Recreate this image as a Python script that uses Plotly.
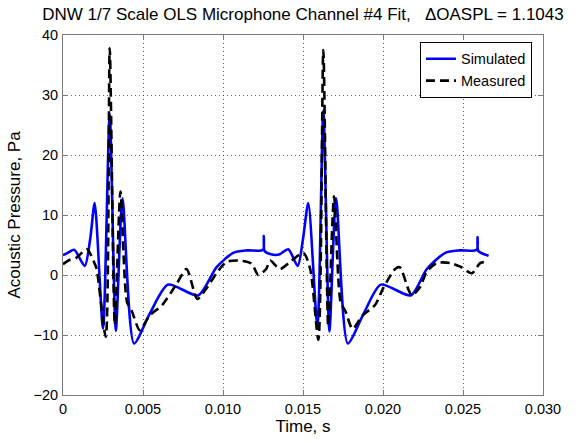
import plotly.graph_objects as go

# Simulated acoustic pressure (Pa) vs time (s)
sim_t = [0.0000, 0.0003, 0.0007, 0.00136, 0.0017, 0.00198, 0.0025, 0.00292, 0.0033,
         0.00372, 0.00444, 0.00543, 0.00657, 0.00845, 0.0096, 0.01064, 0.0115,
         0.01250, 0.01255, 0.01260, 0.01294, 0.0135, 0.01408, 0.01467, 0.0150,
         0.01533, 0.0159, 0.01627, 0.01665, 0.01707, 0.0178, 0.0188, 0.01986,
         0.02174, 0.02274, 0.02389, 0.0248, 0.02586, 0.02591, 0.02596, 0.0266]
sim_p = [3.3, 3.7, 4.2, 1.5, 6.0, 12.0, -8.9, 26.8, -9.3,
         12.8, -11.4, -6.4, -1.6, -3.4, 1.3, 3.7, 4.1,
         4.2, 6.5, 4.0, 3.5, 3.4, 4.3, 1.5, 6.0,
         12.0, -8.6, 27.4, -9.4, 12.8, -11.4, -6.4, -1.6,
         -3.4, 1.0, 3.7, 4.1, 4.2, 6.3, 4.0, 3.2]

# Measured acoustic pressure (Pa) vs time (s)
meas_t = [0.0000, 0.0004, 0.0008, 0.0015, 0.0019, 0.0021, 0.00267, 0.00292, 0.00324,
          0.00359, 0.0040, 0.0043, 0.0048, 0.0054, 0.0062, 0.0071, 0.00772,
          0.0084, 0.00897, 0.0096, 0.01022, 0.01105, 0.01179, 0.0122, 0.0127,
          0.01294, 0.01356, 0.0142, 0.01502, 0.01545, 0.01596, 0.01627, 0.01658,
          0.01694, 0.01735, 0.01765, 0.0181, 0.0187, 0.0195, 0.02003, 0.02076,
          0.02105, 0.0216, 0.0218, 0.02232, 0.02274, 0.02337, 0.0242, 0.02483,
          0.02556, 0.02608, 0.0266]
meas_p = [1.8, 2.5, 2.8, 4.3, 2.4, 1.0, -10.3, 37.8, -8.3,
          13.9, -4.5, -6.0, -9.2, -6.8, -5.0, -1.5, 1.0,
          -4.0, -2.2, 0.3, 2.2, 2.4, 1.9, 0.0, 1.0,
          2.4, 1.0, 2.2, 3.7, 1.0, -10.8, 37.5, -8.6,
          13.1, -4.5, -6.0, -9.0, -6.8, -5.0, -2.1, 1.0,
          1.3, -2.5, -3.4, -2.0, 0.6, 2.0, 2.0, 1.4,
          0.3, 2.0, 2.2]

x_ticks = [0, 0.005, 0.010, 0.015, 0.020, 0.025, 0.030]
x_labels = ["0", "0.005", "0.010", "0.015", "0.020", "0.025", "0.030"]
y_ticks = [-20, -10, 0, 10, 20, 30, 40]

font_family = "Liberation Sans, Arial, sans-serif"

fig = go.Figure()
fig.add_trace(go.Scatter(
    x=sim_t, y=sim_p, name="Simulated", mode="lines",
    line=dict(color="#0000ff", width=2.6, shape="spline", smoothing=0.7),
))
fig.add_trace(go.Scatter(
    x=meas_t, y=meas_p, name="Measured", mode="lines",
    line=dict(color="#000000", width=2.6, dash="9px,5px", shape="spline", smoothing=0.7),
))

axis_common = dict(
    showline=True, linecolor="#7a7a7a", linewidth=1, mirror="ticks",
    ticks="inside", ticklen=5, tickcolor="#7a7a7a",
    showgrid=True, gridcolor="rgba(0,0,0,0.6)", griddash="1px,3px", gridwidth=1,
    zeroline=False,
    tickfont=dict(family=font_family, size=14.5, color="black"),
)

fig.update_xaxes(
    range=[0, 0.030], tickvals=x_ticks, ticktext=x_labels,
    title=dict(text="Time, s", font=dict(family=font_family, size=17, color="black"), standoff=2),
    ticklabelstandoff=1,
    **axis_common,
)
fig.update_yaxes(
    range=[-20, 40], tickvals=y_ticks,
    title=dict(text="Acoustic Pressure, Pa", font=dict(family=font_family, size=17, color="black"), standoff=8),
    ticklabelstandoff=1,
    **axis_common,
)

fig.update_layout(
    width=585, height=443,
    margin=dict(l=63, r=42, t=35, b=44),
    paper_bgcolor="white", plot_bgcolor="white",
    title=dict(
        text="DNW 1/7 Scale OLS Microphone Channel #4 Fit,   \u0394OASPL = 1.1043",
        font=dict(family=font_family, size=17, color="black"),
        x=0.5, xref="paper", xanchor="center", y=1 - 14 / 443, yanchor="middle",
    ),
    legend=dict(
        x=0.977, y=0.981, xanchor="right", yanchor="top",
        bgcolor="white", bordercolor="black", borderwidth=1,
        font=dict(family=font_family, size=14.5, color="black"),
        tracegroupgap=0, itemwidth=30,
    ),
    showlegend=True,
)

fig.write_html("out.html")
